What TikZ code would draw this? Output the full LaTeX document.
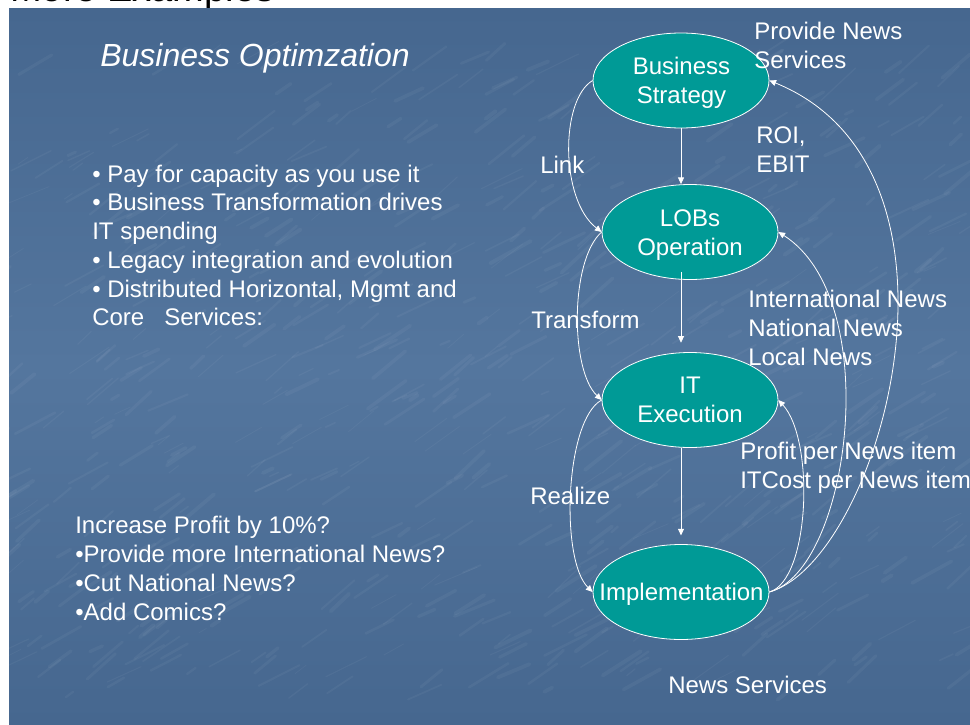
\documentclass[tikz,border=0pt]{standalone}
\usepackage{fontspec}
\setmainfont{Liberation Sans}
\usetikzlibrary{shapes.geometric,arrows.meta}
\definecolor{slidemid}{RGB}{84,118,158}
\definecolor{slidedark}{RGB}{70,103,143}
\definecolor{stageteal}{RGB}{0,154,150}
\begin{document}
\begin{tikzpicture}[x=0.75pt,y=-0.75pt,
  txt/.style={text=white, font=\fontsize{18}{21.75}\selectfont, inner sep=0pt},
  lbl/.style={txt, anchor=base west, align=left},
  stage/.style={ellipse, draw=white, line width=0.6pt, fill=stageteal,
    minimum width=132pt, minimum height=71.25pt, inner sep=0pt},
  stagetext/.style={txt, align=center},
  flow/.style={draw=white, line width=0.6pt, -{Triangle[length=5pt,width=4.5pt]}}]

% page frame
\useasboundingbox (0,0) rectangle (970,724);
\clip (0,0) rectangle (970,724);
\fill[white] (0,0) rectangle (970,724);

% slide title, running off the top edge
\node[anchor=base west, inner sep=0pt, text=black,
  font=\fontsize{28.5}{34}\selectfont] (title) at (10,1.5) {More Examples};

% slide background with a light streaky texture
\shade[top color=slidedark, bottom color=slidedark, middle color=slidemid]
  (9,9) rectangle (970,724);
\begin{scope}
  \clip (9,9) rectangle (970,724);
  \pgfmathsetseed{4217}
  \foreach \i in {1,...,700}{
    \pgfmathsetmacro{\sx}{-40+rnd*1000}
    \pgfmathsetmacro{\sy}{60+rnd*640}
    \pgfmathsetmacro{\sl}{8+rnd*40}
    \pgfmathsetmacro{\sa}{-(22+rnd*22)}
    \pgfmathsetmacro{\sw}{0.5+rnd*2.5}
    \draw[white, opacity=0.045, line width=\sw pt, line cap=round]
      (\sx,\sy) -- ++(\sa:\sl);
  }
\end{scope}

% headings and notes on the left
\node[txt, anchor=base west, font=\fontsize{24}{29}\selectfont\itshape]
  (heading) at (100,67) {Business Optimzation};

\node[lbl] (l1) at (92,182) {• Pay for capacity as you use it};
\node[lbl] (l2) at (92,210) {• Business Transformation drives};
\node[lbl] (l3) at (92,239) {IT spending};
\node[lbl] (l4) at (92,268) {• Legacy integration and evolution};
\node[lbl] (l5) at (92,297) {• Distributed Horizontal, Mgmt and};
\node[lbl] (l6) at (92,325) {Core\hspace{15pt}Services:};

\node[lbl] (q1) at (75,533) {Increase Profit by 10\%?};
\node[lbl] (q2) at (75,562) {•Provide more International News?};
\node[lbl] (q3) at (75,591) {•Cut National News?};
\node[lbl] (q4) at (75,620) {•Add Comics?};

% the four stages
\node[stage] (bs)   at (681,80.5) {};
\node[stage] (lobs) at (690,232)  {};
\node[stage] (it)   at (690,400)  {};
\node[stage] (impl) at (681,592)  {};

\node[stagetext] (bsText)   at (681.5,83) {Business\\Strategy};
\node[stagetext] (lobsText) at (690,235)  {LOBs\\Operation};
\node[stagetext] (itText)   at (690,400)  {IT\\Execution};
\node[stagetext] (implText) at (681.5,594) {Implementation};

% downward flow
\draw[flow] (bs.south) -- (bs.south |- lobs.north);
\draw[flow] ([yshift=6pt]lobs.south -| bs.south) -- ([yshift=7pt]it.north -| bs.south);
\draw[flow] (it.south -| bs.south) -- ([yshift=6.5pt]impl.north);

% left-hand links
\draw[flow] (bs.west) .. controls (560,100) and (560,200) .. (lobs.west);
\draw[flow] (lobs.west) .. controls (570,260) and (570,370) .. (it.west);
\draw[flow] (it.west) .. controls (565,420) and (560,560) .. (impl.west);

% feedback from implementation
\draw[flow] (impl.east) .. controls (880,560) and (990,170) .. (bs.east);
\draw[flow] (impl.east) .. controls (850,570) and (885,300) .. (lobs.east);
\draw[flow] (impl.east) .. controls (810,580) and (815,440) .. (it.east);

% labels around the diagram (base anchor sits on the last line)
\node[lbl] (provide)  at (754,69)  {Provide News\\Services};
\node[lbl] (roi)      at (756,172) {ROI,\\EBIT};
\node[lbl] (link)     at (540,173) {Link};
\node[lbl] (transform) at (531,328) {Transform};
\node[lbl] (news)     at (748,365) {International News\\National News\\Local News};
\node[lbl] (profit)   at (740,488) {Profit per News item\\ITCost per News item};
\node[lbl] (realize)  at (530,504) {Realize};
\node[lbl] (services) at (668,693) {News Services};
\end{tikzpicture}
\end{document}
